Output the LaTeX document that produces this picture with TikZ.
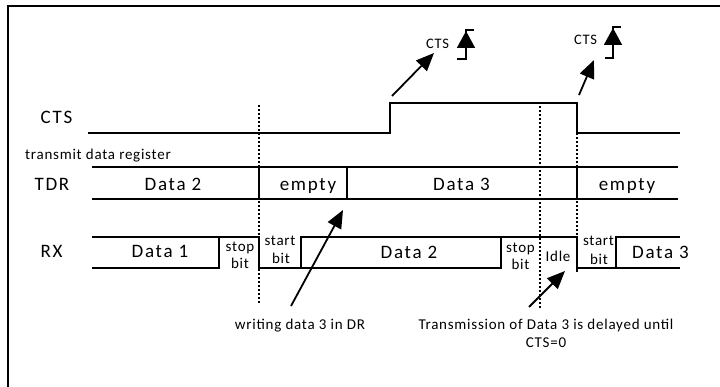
\documentclass[tikz,border=0pt]{standalone}
\usepackage{fontspec}
\setmainfont{Carlito}
\newfontfamily\lsbig[LetterSpace=9]{Carlito}
\newfontfamily\lssmall[LetterSpace=5]{Carlito}
\usetikzlibrary{arrows.meta}
\begin{document}
\begin{tikzpicture}[x=1pt,y=-1pt,
  sig/.style={line width=1.6pt},
  guide/.style={line width=1.4pt,dash pattern=on 2.2pt off 1.8pt},
  arr/.style={line width=1.8pt,-{Triangle[length=18pt,width=15pt]}},
  edgearr/.style={line width=1.8pt,-{Triangle[length=17pt,width=18pt]}},
  big/.style={font=\lsbig\fontsize{19}{21}\selectfont,inner sep=0pt,anchor=base},
  small/.style={font=\lssmall\fontsize{15}{17}\selectfont,inner sep=0pt,anchor=base},
  tiny/.style={font=\lssmall\fontsize{14.5}{16}\selectfont,inner sep=0pt,anchor=base}]
\useasboundingbox (0,0) rectangle (720,387);
% frame
\draw[line width=1.6pt] (8,387) -- (8,6) -- (720,6);

% guide lines (dotted)
\draw[guide] (259,105) -- (259,304);
\draw[guide] (540,102) -- (540,308);
\draw[guide] (577,133) -- (577,237);

% CTS waveform
\draw[sig] (88,133) -- (390,133) -- (390,103) -- (577,103) -- (577,133) -- (680,133);

% TDR
\draw[sig] (92,167) -- (678,167);
\draw[sig] (92,199) -- (678,199);
\foreach \x in {259,347,577} \draw[sig] (\x,167) -- (\x,199);

% RX
\draw[sig] (92,237) -- (259,237) -- (259,268) -- (301,268) -- (301,237) -- (577,237) -- (577,272);
\draw[sig] (92,268) -- (219,268) -- (219,237);
\draw[sig] (301,268) -- (501,268) -- (501,237);
\draw[sig] (577,268) -- (616,268) -- (616,237) -- (680,237);
\draw[sig] (616,268) -- (680,268);

% left labels
\node[big] (lcts) at (56.5,124) {CTS};
\node[small,anchor=base west] (ltdrreg) at (25,160) {transmit data register};
\node[big] (ltdr) at (52,191) {TDR};
\node[big] (lrx) at (51.5,258) {RX};

% TDR texts
\node[big] (t1) at (173,190.5) {Data 2};
\node[big] (t2) at (308,190.5) {empty};
\node[big] (t3) at (461.5,190.5) {Data 3};
\node[big] (t4) at (627,190.5) {empty};

% RX texts
\node[big] (r1) at (160,258) {Data 1};
\node[small] (r2a) at (240,251.5) {stop};
\node[small] (r2b) at (240,268.5) {bit};
\node[small] (r3a) at (280,245.5) {start};
\node[small] (r3b) at (281,263.5) {bit};
\node[big] (r4) at (409,258.5) {Data 2};
\node[small] (r5a) at (520.5,252.5) {stop};
\node[small] (r5b) at (520.5,269.5) {bit};
\node[small] (r6) at (558,262) {Idle};
\node[small] (r7a) at (598.5,245.5) {start};
\node[small] (r7b) at (599,264.5) {bit};
\node[big] (r8) at (660.5,258.5) {Data 3};

% CTS annotations
\node[tiny] (c1) at (437.5,48.3) {CTS};
\node[tiny] (c2) at (585.5,45) {CTS};
\coordinate (a1s) at (392,96);
\coordinate (a1e) at (434,53);
\draw[arr] (a1s) -- (a1e);
\coordinate (a2s) at (579,95);
\coordinate (a2e) at (594,60);
\draw[arr] (a2s) -- (a2e);

% rising-edge symbols
\coordinate (e1b) at (466,59);
\coordinate (e1t) at (466,30);
\draw[line width=1.6pt] (457,59) -- (e1b) -- (e1t) -- (474,30);
\draw[edgearr] (e1b) -- (466,31);
\coordinate (e2b) at (613,58);
\coordinate (e2t) at (613,27);
\draw[line width=1.6pt] (605,58) -- (e2b) -- (e2t) -- (621,27);
\draw[edgearr] (e2b) -- (613,28);

% bottom annotations
\node[small] (wr) at (300,330) {writing data 3 in DR};
\coordinate (w1) at (291,306);
\coordinate (w2) at (343,210);
\draw[arr] (w1) -- (w2);
\node[small] (tr1) at (546,329) {Transmission of Data 3 is delayed until};
\node[small] (tr2) at (546,347.5) {CTS=0};
\coordinate (d1) at (529,307);
\coordinate (d2) at (565,271);
\draw[arr] (d1) -- (d2);
\end{tikzpicture}
\end{document}
